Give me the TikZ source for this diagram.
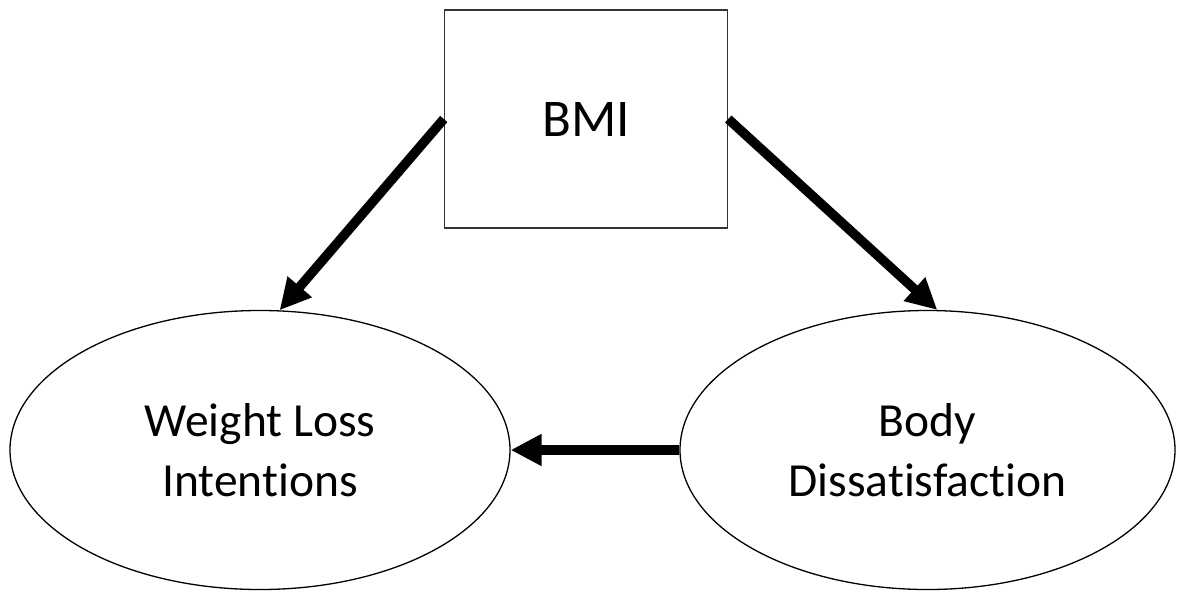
\documentclass[tikz,border=0pt]{standalone}
\usepackage{fontspec}
\setmainfont{Carlito}[Ligatures={NoCommon}]
\usetikzlibrary{shapes.geometric,arrows.meta}
\tikzset{
  boxnode/.style={draw=black!80, line width=1.5pt, rectangle, inner sep=0pt,
    minimum width=283pt, minimum height=218pt, font=\fontsize{53}{60}\selectfont},
  ellnode/.style={draw=black, line width=1.3pt, ellipse, inner sep=0pt,
    minimum width=500pt, minimum height=279pt, align=center,
    font=\fontsize{47.5}{60}\selectfont},
  conn/.style={line width=9.5pt, -{Triangle[length=31pt,width=30pt]}}
}
\begin{document}
\begin{tikzpicture}[x=1pt,y=-1pt]
\useasboundingbox (0,0) rectangle (1177,592);
\node[boxnode] (bmi) at (586,119) {BMI};
\node[ellnode] (wli) at (260,450) {Weight Loss\\Intentions};
\node[ellnode, minimum width=495pt] (bdi) at (927.5,450) {Body\\Dissatisfaction};
\draw[conn] (bmi.west) -- (wli.82.6);
\draw[conn] (bmi.east) -- (bdi.86.7);
\draw[conn] (bdi.west) -- (wli.east);
\end{tikzpicture}
\end{document}
